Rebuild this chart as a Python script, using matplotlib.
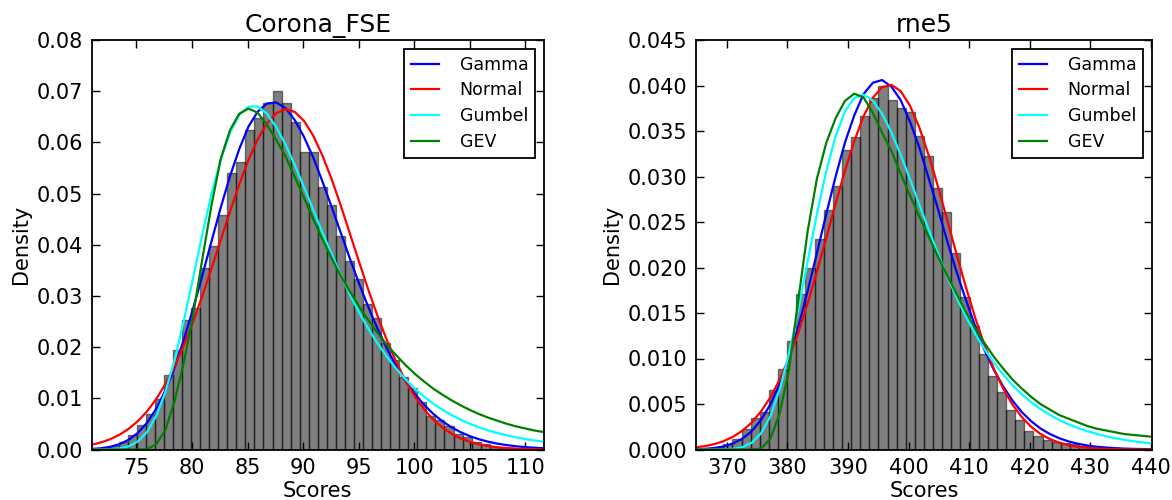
import numpy as np
import matplotlib
matplotlib.use("Agg")
import matplotlib.pyplot as plt

plt.rcParams['font.family'] = ['DejaVu Sans']
plt.rcParams['font.size'] = 15

# ---------------- data: left panel ----------------
left_title = "Corona_FSE"
left_range = (70.95, 111.70)
left_xticks = [75, 80, 85, 90, 95, 100, 105, 110]
left_yticks = [0.00, 0.01, 0.02, 0.03, 0.04, 0.05, 0.06, 0.07, 0.08]
left_hist = [0.00005, 0.0002, 0.0006, 0.0015, 0.0028, 0.0047, 0.0069, 0.0099, 0.0145, 0.0195,
             0.0253, 0.0276, 0.0354, 0.0398, 0.0458, 0.0541, 0.0561, 0.0624, 0.0647, 0.0677,
             0.0700, 0.0676, 0.0639, 0.0581, 0.0581, 0.0513, 0.0478, 0.0418, 0.0369, 0.0333,
             0.0284, 0.0257, 0.0208, 0.0175, 0.0141, 0.0121, 0.0093, 0.0066, 0.0058, 0.0046,
             0.0031, 0.0025, 0.0015, 0.0010, 0.0005, 0.0003, 0.00015, 0.0001, 0.00005, 0.00003]
left_gamma = [0.0001, 0.00024, 0.00051, 0.00102, 0.00187, 0.00321, 0.0052, 0.00795, 0.01152, 0.016,
              0.02148, 0.0275, 0.034, 0.0407, 0.0473, 0.0534, 0.0587, 0.0631, 0.066, 0.0676,
              0.0678, 0.0667, 0.0644, 0.0611, 0.0571, 0.0524, 0.0474, 0.0423, 0.0372, 0.0323,
              0.0277, 0.0235, 0.0197, 0.0163, 0.0134, 0.0109, 0.00876, 0.00697, 0.00552, 0.00432,
              0.00336, 0.00259, 0.00198, 0.0015, 0.00113, 0.00085, 0.00063, 0.00047, 0.00034, 0.00025]
left_normal = [0.00092, 0.00137, 0.00199, 0.00285, 0.00401, 0.00551, 0.00743, 0.00983, 0.01277, 0.01626,
               0.02037, 0.02495, 0.02999, 0.03539, 0.04094, 0.04646, 0.05179, 0.05659, 0.06062, 0.06372,
               0.06571, 0.06649, 0.06597, 0.06422, 0.06134, 0.05747, 0.05283, 0.04763, 0.04207, 0.03651,
               0.03108, 0.02596, 0.02126, 0.0171, 0.01344, 0.01039, 0.00789, 0.00587, 0.00428, 0.00307,
               0.00216, 0.00148, 0.0010, 0.00066, 0.00043, 0.00028, 0.00017, 0.00011, 0.00006, 0.00004]
left_gumbel = [0.0, 0.00001, 0.00005, 0.00019, 0.0006, 0.00154, 0.00339, 0.00652, 0.01122, 0.01748,
               0.02517, 0.03354, 0.042, 0.04994, 0.0567, 0.0619, 0.06535, 0.067, 0.067, 0.0656,
               0.063, 0.0596, 0.0556, 0.0513, 0.0469, 0.0424, 0.0382, 0.0341, 0.0302, 0.0267,
               0.02353, 0.02066, 0.01808, 0.01578, 0.01372, 0.01193, 0.01034, 0.00897, 0.00776, 0.00671,
               0.0058, 0.005, 0.00431, 0.00372, 0.0032, 0.00276, 0.00238, 0.00204, 0.00176, 0.00151]
left_gev = [0.0, 0.0, 0.0, 0.0, 0.0, 0.0, 0.00005, 0.001, 0.0038, 0.0095,
            0.017, 0.0262, 0.0372, 0.0478, 0.0568, 0.0624, 0.0656, 0.0666, 0.0658, 0.0634,
            0.0605, 0.0573, 0.0533, 0.0492, 0.0451, 0.0411, 0.0374, 0.0339, 0.0308, 0.0279,
            0.0252, 0.0227, 0.0204, 0.0184, 0.0165, 0.0148, 0.0133, 0.0119, 0.0107, 0.0096,
            0.0086, 0.0077, 0.0069, 0.0062, 0.0056, 0.0050, 0.0045, 0.0041, 0.0037, 0.0034]

# ---------------- data: right panel ----------------
right_title = "rne5"
right_range = (364.90, 440.20)
right_xticks = [370, 380, 390, 400, 410, 420, 430, 440]
right_yticks = [0.000, 0.005, 0.010, 0.015, 0.020, 0.025, 0.030, 0.035, 0.040, 0.045]
right_hist = [0.00005, 0.0001, 0.0003, 0.0006, 0.0012, 0.0023, 0.0035, 0.0041, 0.0065, 0.0089,
              0.0119, 0.0171, 0.0199, 0.0231, 0.0263, 0.0290, 0.0329, 0.0343, 0.0366, 0.0386,
              0.0400, 0.0384, 0.0375, 0.0371, 0.0344, 0.0322, 0.0287, 0.0261, 0.0216, 0.0168,
              0.0136, 0.0105, 0.0081, 0.0063, 0.0043, 0.0032, 0.0020, 0.0015, 0.0010, 0.0008,
              0.0007, 0.0006, 0.0004, 0.0003, 0.0002, 0.0001, 0.0001, 0.00005, 0.00003, 0.00002]
right_gamma = [0.00003, 0.00008, 0.00017, 0.00035, 0.00067, 0.0012, 0.00202, 0.00327, 0.00497, 0.00727,
               0.01011, 0.01352, 0.0174, 0.02162, 0.02589, 0.02999, 0.03371, 0.0367, 0.03905, 0.0403,
               0.0406, 0.03987, 0.03838, 0.03601, 0.03318, 0.02981, 0.02644, 0.02289, 0.01953, 0.01644,
               0.01356, 0.01092, 0.00877, 0.00694, 0.00539, 0.00412, 0.00312, 0.00232, 0.00172, 0.00125,
               0.0009, 0.00064, 0.00045, 0.00031, 0.00022, 0.00015, 0.0001, 0.00007, 0.00005, 0.00003]
right_normal = [0.000235, 0.00038, 0.0006, 0.00093, 0.00141, 0.00207, 0.00298, 0.0042, 0.00575, 0.00771,
                0.01009, 0.01286, 0.01606, 0.01956, 0.02325, 0.02701, 0.03061, 0.03387, 0.03662, 0.03865,
                0.03982, 0.04007, 0.03937, 0.03777, 0.03538, 0.03235, 0.02891, 0.0252, 0.02145, 0.01785,
                0.01448, 0.01147, 0.00889, 0.00672, 0.00495, 0.00357, 0.00251, 0.00172, 0.00116, 0.00076,
                0.00048, 0.0003, 0.00018, 0.00011, 0.00006, 0.00004, 0.00002, 0.00001, 0.000005, 0.0]
right_gumbel = [0.0, 0.0, 0.000003, 0.000016, 0.000074, 0.00026, 0.00075, 0.0018, 0.00367, 0.0066,
                0.01057, 0.01536, 0.02066, 0.0259, 0.0306, 0.03443, 0.03714, 0.03863, 0.03899, 0.03834,
                0.0369, 0.03483, 0.03237, 0.02969, 0.02691, 0.02416, 0.02152, 0.01901, 0.0167, 0.01461,
                0.01272, 0.01104, 0.00955, 0.00823, 0.00708, 0.00608, 0.00521, 0.00446, 0.00382, 0.00326,
                0.00278, 0.00238, 0.00203, 0.00173, 0.00147, 0.00125, 0.00106, 0.00091, 0.00077, 0.00066]
right_gev = [0.0, 0.0, 0.0, 0.0, 0.0, 0.0, 0.0, 0.0001, 0.0012, 0.0040,
             0.0088, 0.0165, 0.0240, 0.0298, 0.0337, 0.0364, 0.0383, 0.0391, 0.0387, 0.0370,
             0.0348, 0.0328, 0.0303, 0.0279, 0.0256, 0.0234, 0.0212, 0.0191, 0.0171, 0.0151,
             0.0133, 0.0117, 0.0102, 0.0089, 0.0077, 0.0067, 0.0058, 0.0050, 0.0044, 0.0038,
             0.0034, 0.0030, 0.0026, 0.0023, 0.0021, 0.0019, 0.0017, 0.0016, 0.0015, 0.0014]

series_names = ["Gamma", "Normal", "Gumbel", "GEV"]
series_colors = ["#0000ff", "#ff0000", "#00ffff", "#008000"]

fig = plt.figure(figsize=(11.72, 5.0), dpi=100)
ax_l = fig.add_axes([91.5 / 1172, 50.5 / 500, 452.5 / 1172, 409.5 / 500])
ax_r = fig.add_axes([696.0 / 1172, 50.5 / 500, 456.0 / 1172, 409.5 / 500])


def draw(ax, title, xr, hist, curves, xticks, yticks, yfmt):
    edges = np.linspace(xr[0], xr[1], len(hist) + 1)
    ax.bar(edges[:-1], hist, width=np.diff(edges), align='edge',
           facecolor=(0, 0, 0, 0.5), edgecolor=(0, 0, 0, 0.5), linewidth=1.0)
    xs = np.linspace(xr[0], xr[1], len(curves[0]))
    for vals, name, col in zip(curves, series_names, series_colors):
        ax.plot(xs, vals, color=col, lw=1.6, label=name)
    ax.set_xlim(xr)
    ax.set_ylim(yticks[0], yticks[-1])
    ax.set_xticks(xticks)
    ax.set_yticks(yticks)
    ax.set_yticklabels([yfmt.format(v) for v in yticks])
    ax.tick_params(direction='in', top=True, right=True, length=6, width=1,
                   labelsize=15, pad=6)
    for s in ax.spines.values():
        s.set_linewidth(1.3)
    ax.set_title(title, fontsize=18, pad=6)
    ax.set_xlabel("Scores", fontsize=15, labelpad=2)
    ax.set_ylabel("Density", fontsize=15)
    leg = ax.legend(loc='upper right', fontsize=12.5, fancybox=False,
                    edgecolor='black', framealpha=1.0, handlelength=1.6,
                    handletextpad=1.2, labelspacing=0.45, borderaxespad=0.5)
    leg.get_frame().set_linewidth(1.3)


draw(ax_l, left_title, left_range, left_hist,
     [left_gamma, left_normal, left_gumbel, left_gev], left_xticks, left_yticks, "{:.2f}")
draw(ax_r, right_title, right_range, right_hist,
     [right_gamma, right_normal, right_gumbel, right_gev], right_xticks, right_yticks, "{:.3f}")

fig.savefig("out.png", dpi=100)
